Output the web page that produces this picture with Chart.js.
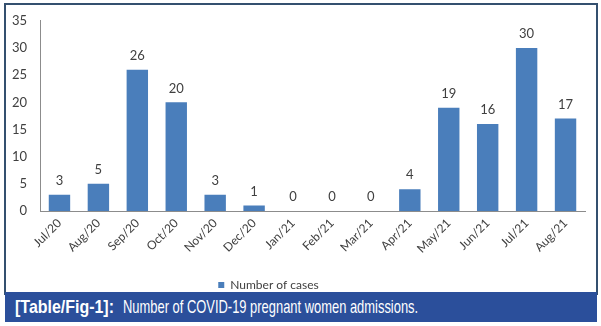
<!DOCTYPE html>
<html>
<head>
<meta charset="utf-8">
<script src="https://cdn.jsdelivr.net/npm/chart.js@4.4.1/dist/chart.umd.min.js"></script>
<style>
  html, body { margin:0; padding:0; background:#fff; }
  #wrap { position:relative; width:601px; height:326px; overflow:hidden; }
  #frame { position:absolute; left:4px; top:3px; width:590px; height:290px; border:2px solid #34506f; border-bottom:none; }
  #chart { position:absolute; left:0; top:0; }
  #caption { position:absolute; left:5px; top:292px; width:592px; height:30px; background:#2b4f9b; color:#fff;
    font-family:'Liberation Sans',Arial,sans-serif; font-size:19px; line-height:30px; box-sizing:border-box; white-space:nowrap; }
  #caption span { position:absolute; top:0; transform-origin:left center; }
  #capLabel { left:10px; font-weight:bold; transform:scaleX(0.84); }
  #capText { left:118px; transform:scaleX(0.68); }
</style>
</head>
<body>
<div id="wrap">
  <div id="frame"></div>
  <canvas id="chart" width="601" height="326"></canvas>
  <div id="caption"><span id="capLabel">[Table/Fig-1]:</span> <span id="capText">Number of COVID-19 pregnant women admissions.</span></div>
</div>
<script>
const months = ['Jul/20','Aug/20','Sep/20','Oct/20','Nov/20','Dec/20','Jan/21','Feb/21','Mar/21','Apr/21','May/21','Jun/21','Jul/21','Aug/21'];
const cases = [3, 5, 26, 20, 3, 1, 0, 0, 0, 4, 19, 16, 30, 17];
const seriesName = 'Number of cases';
const yTicks = [0, 5, 10, 15, 20, 25, 30, 35];

const barBlue = '#4a7ebb';
const axisGray = '#8c8c8c';
const textColor = '#404040';
const font = "Lato, 'Open Sans', sans-serif";

// value labels above each bar, placed from the bar elements
const valueLabels = {
  id: 'valueLabels',
  afterDatasetsDraw(chart) {
    const ctx = chart.ctx;
    const meta = chart.getDatasetMeta(0);
    ctx.save();
    ctx.font = `13px ${font}`;
    ctx.fillStyle = textColor;
    ctx.textAlign = 'center';
    ctx.textBaseline = 'middle';
    meta.data.forEach((bar, i) => {
      ctx.fillText(String(cases[i]), bar.x, bar.y - 14);
    });
    ctx.restore();
  }
};

// the original legend sits a bit left of centre
const legendShift = {
  id: 'legendShift',
  afterLayout(chart) {
    chart.legend.left -= 24;
    chart.legend.right -= 24;
  }
};

new Chart(document.getElementById('chart'), {
  type: 'bar',
  data: {
    labels: months,
    datasets: [{ label: seriesName, data: cases, backgroundColor: barBlue, categoryPercentage: 1, barPercentage: 0.55 }]
  },
  options: {
    responsive: false,
    animation: false,
    layout: { padding: { left: 0, right: 16, top: 17, bottom: 25 } },
    plugins: {
      tooltip: { enabled: false },
      legend: {
        position: 'bottom',
        labels: { boxWidth: 6, boxHeight: 6, padding: 6, color: textColor, font: { family: font, size: 12 } }
      }
    },
    scales: {
      x: {
        grid: { display: false, drawTicks: false },
        border: { color: axisGray, width: 1 },
        ticks: { color: textColor, font: { family: font, size: 12 }, maxRotation: 45, minRotation: 45, padding: 5 },
        afterFit: s => { s.height = 62; }
      },
      y: {
        min: 0, max: 35,
        grid: { display: false, drawTicks: false },
        border: { color: axisGray, width: 1 },
        afterBuildTicks: s => { s.ticks = yTicks.map(v => ({ value: v })); },
        ticks: { color: textColor, font: { family: font, size: 13 }, padding: 13 },
        afterFit: s => { s.width = 40; }
      }
    }
  },
  plugins: [valueLabels, legendShift]
});
</script>
</body>
</html>
